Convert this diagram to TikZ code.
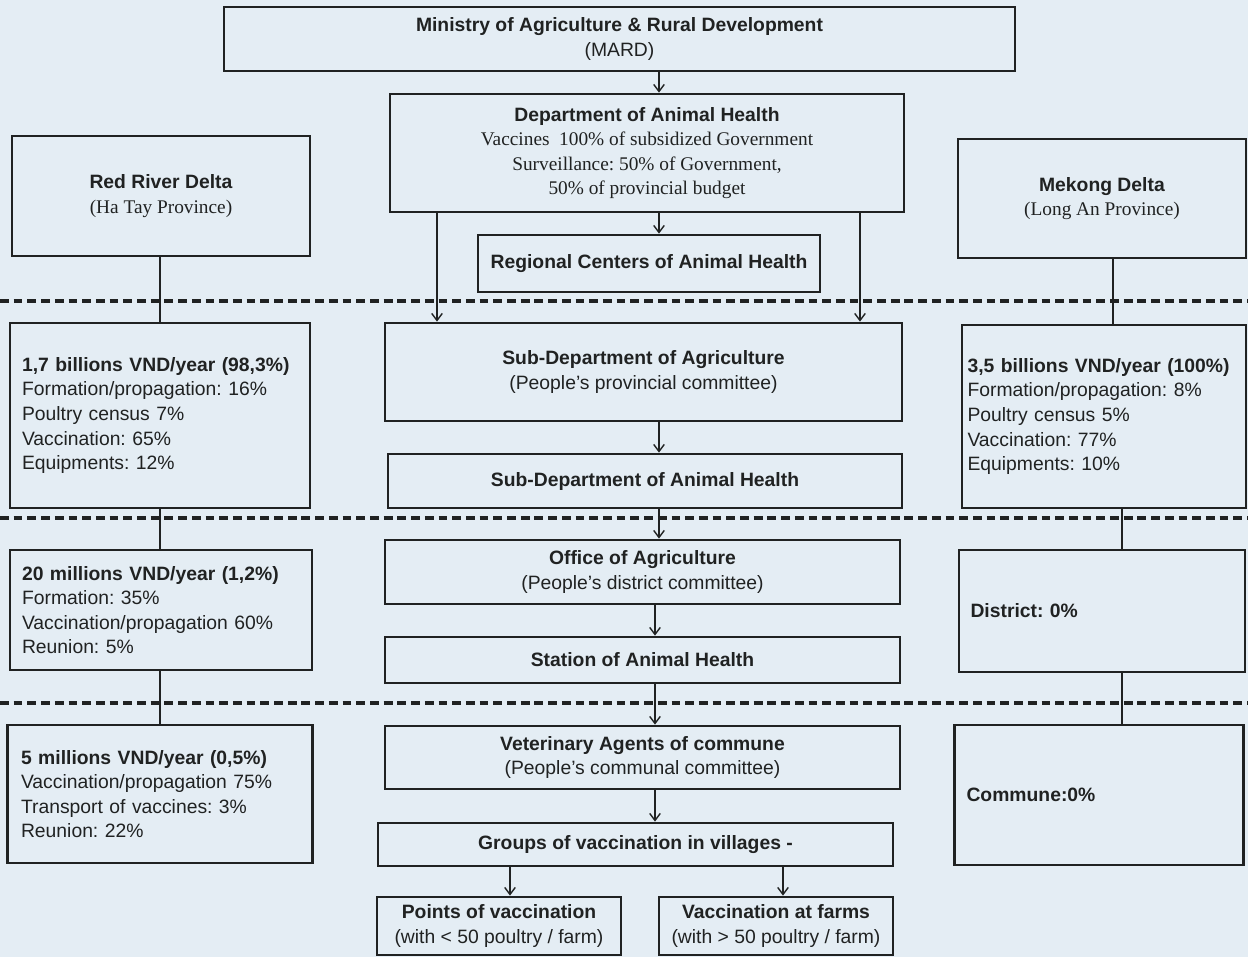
\documentclass[tikz,border=0pt]{standalone}
\usepackage{fontspec}
\setmainfont{Liberation Sans}
\newfontfamily\serifpart{Liberation Serif}
\usepackage{tikz}
\usetikzlibrary{arrows.meta}
\definecolor{paper}{RGB}{228,237,244}
\definecolor{ink}{RGB}{32,34,34}
\frenchspacing

\begin{document}
\begin{tikzpicture}[x=0.02cm,y=-0.02cm,
  box/.style={draw=ink,line width=1.6pt,fill=paper,text=ink,align=center,inner sep=2pt,font=\fontsize{11}{14}\selectfont},
  fund/.style={box,align=left},
  link/.style={draw=ink,line width=0.8pt},
  arr/.style={link,-{Straight Barb[length=4pt,width=6pt,line width=0.8pt]}},
  level/.style={draw=ink,line width=2pt,dash pattern=on 5pt off 2.8pt}]
\fill[paper] (0,0) rectangle (1248,957);
\useasboundingbox (0,0) rectangle (1248,957);

\node[box,minimum width=15.82cm,minimum height=1.28cm] (mard) at (619.5,39) {\textbf{Ministry of Agriculture \& Rural Development}\\(MARD)};
\node[box,minimum width=10.28cm,minimum height=2.36cm] (dah) at (647,153) {\textbf{Department of Animal Health}\\{\serifpart Vaccines\ \ 100\% of subsidized Government}\\{\serifpart Surveillance: 50\% of Government,}\\{\serifpart 50\% of provincial budget}};
\node[box,minimum width=6.84cm,minimum height=1.14cm] (rcah) at (649,263.5) {\textbf{Regional Centers of Animal Health}};
\node[box,minimum width=5.96cm,minimum height=2.4cm] (redriver) at (161,196) {\textbf{Red River Delta}\\{\serifpart (Ha Tay Province)}};
\node[box,minimum width=5.76cm,minimum height=2.38cm] (mekong) at (1102,198.5) {\textbf{Mekong Delta}\\{\serifpart (Long An Province)}};

\node[fund,minimum width=6cm,minimum height=3.7cm,text width=5.52cm] (provnorth) at (160,415.5) {\textbf{1,7 billions VND/year (98,3\%)}\\Formation/propagation: 16\%\\Poultry census 7\%\\Vaccination: 65\%\\Equipments: 12\%};
\node[box,minimum width=10.34cm,minimum height=1.96cm] (sda) at (643.5,372) {\textbf{Sub-Department of Agriculture}\\(People's provincial committee)};
\node[box,minimum width=10.28cm,minimum height=1.08cm] (sdah) at (645,481) {\textbf{Sub-Department of Animal Health}};
\node[fund,minimum width=5.68cm,minimum height=3.66cm,text width=5.46cm] (provsouth) at (1104,416.5) {\textbf{3,5 billions VND/year (100\%)}\\Formation/propagation: 8\%\\Poultry census 5\%\\Vaccination: 77\%\\Equipments: 10\%};

\node[box,minimum width=10.3cm,minimum height=1.28cm] (oa) at (642.5,572) {\textbf{Office of Agriculture}\\(People's district committee)};
\node[fund,minimum width=6.04cm,minimum height=2.4cm,text width=5.56cm] (distnorth) at (161,610) {\textbf{20 millions VND/year (1,2\%)}\\Formation: 35\%\\Vaccination/propagation 60\%\\Reunion: 5\%};
\node[fund,minimum width=5.72cm,minimum height=2.44cm,text width=5.26cm] (distsouth) at (1102,611) {\textbf{District: 0\%}};
\node[box,minimum width=10.3cm,minimum height=0.92cm] (sah) at (642.5,660) {\textbf{Station of Animal Health}};

\node[box,minimum width=10.3cm,minimum height=1.26cm] (vac) at (642.5,757.5) {\textbf{Veterinary Agents of commune}\\(People's communal committee)};
\node[fund,minimum width=6.1cm,minimum height=2.76cm,text width=5.56cm] (comnorth) at (160,794) {\textbf{5 millions VND/year (0,5\%)}\\Vaccination/propagation 75\%\\Transport of vaccines: 3\%\\Reunion: 22\%};
\node[fund,minimum width=5.78cm,minimum height=2.8cm,text width=5.3cm] (comsouth) at (1099,795) {\textbf{Commune:0\%}};
\node[box,minimum width=10.3cm,minimum height=0.86cm] (gvv) at (635.5,844.5) {\textbf{Groups of vaccination in villages -}};
\node[box,minimum width=4.88cm,minimum height=1.16cm] (pov) at (499,926) {\textbf{Points of vaccination}\\(with < 50 poultry / farm)};
\node[box,minimum width=4.68cm,minimum height=1.16cm] (vaf) at (776,926) {\textbf{Vaccination at farms}\\(with > 50 poultry / farm)};

\draw[level] (0,301) -- (1248,301);
\draw[level] (0,518) -- (1248,518);
\draw[level] (0,703) -- (1248,703);

\coordinate (cu) at (659,0);
\coordinate (cl) at (655,0);
\coordinate (dl) at (437,0);
\coordinate (dr) at (860,0);
\coordinate (lx) at (160,0);
\coordinate (rx) at (1113,0);
\coordinate (ry) at (1122,0);
\coordinate (gl) at (510,0);
\coordinate (gr) at (783,0);

\draw[arr] (mard.south -| cu) -- (dah.north -| cu);
\draw[arr] (dah.south -| cu) -- (rcah.north -| cu);
\draw[arr] (dah.south -| dl) -- (sda.north -| dl);
\draw[arr] (dah.south -| dr) -- (sda.north -| dr);
\draw[arr] (sda.south -| cu) -- (sdah.north -| cu);
\draw[arr] (sdah.south -| cu) -- (oa.north -| cu);
\draw[arr] (oa.south -| cl) -- (sah.north -| cl);
\draw[arr] (sah.south -| cl) -- (vac.north -| cl);
\draw[arr] (vac.south -| cl) -- (gvv.north -| cl);
\draw[arr] (gvv.south -| gl) -- (pov.north -| gl);
\draw[arr] (gvv.south -| gr) -- (vaf.north -| gr);

\draw[link] (redriver.south -| lx) -- (provnorth.north -| lx);
\draw[link] (provnorth.south -| lx) -- (distnorth.north -| lx);
\draw[link] (distnorth.south -| lx) -- (comnorth.north -| lx);
\draw[link] (mekong.south -| rx) -- (provsouth.north -| rx);
\draw[link] (provsouth.south -| ry) -- (distsouth.north -| ry);
\draw[link] (distsouth.south -| ry) -- (comsouth.north -| ry);
\end{tikzpicture}
\end{document}
